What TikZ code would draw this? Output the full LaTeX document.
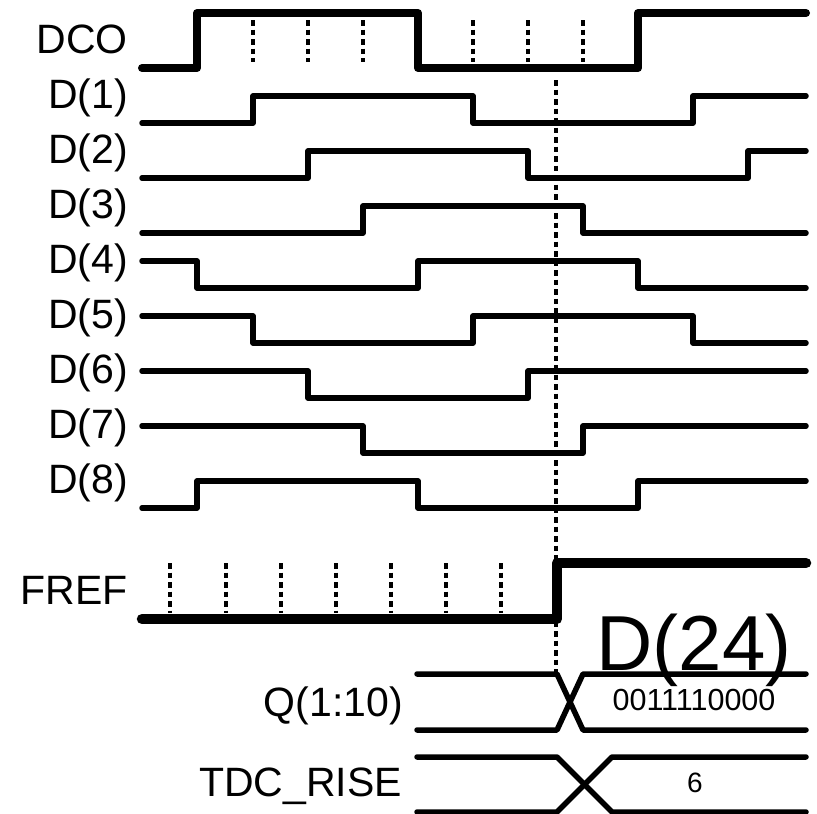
\documentclass[tikz,border=0pt]{standalone}
\usepackage{fontspec}
\setmainfont{Liberation Sans}

\begin{document}
\begin{tikzpicture}[x=1pt,y=-1pt,line join=round,line cap=round,
    font=\fontsize{41pt}{41pt}\selectfont,
    wave/.style={line width=5.5pt},
    clk/.style={line width=8pt},
    ref/.style={line width=10.5pt},
    tick/.style={line width=3.5pt,line cap=butt,dash pattern=on 5.5pt off 4pt},
    lbl/.style={anchor=base east,inner sep=0pt}]
  \useasboundingbox (0,0) rectangle (817,814);
  % signal names
  \node[lbl] (lDCO) at (128,53) {DCO};
  \node[lbl] (lD1) at (128,108) {D(1)};
  \node[lbl] (lD2) at (128,163) {D(2)};
  \node[lbl] (lD3) at (128,218) {D(3)};
  \node[lbl] (lD4) at (128,273) {D(4)};
  \node[lbl] (lD5) at (128,328) {D(5)};
  \node[lbl] (lD6) at (128,383) {D(6)};
  \node[lbl] (lD7) at (128,438) {D(7)};
  \node[lbl] (lD8) at (128,493) {D(8)};
  \node[lbl] (lFREF) at (128,604) {FREF};
  \node[lbl] (lQ) at (403,716) {Q(1:10)};
  \node[lbl] (lTDC) at (402,796) {TDC\_RISE};
  % waveforms
  \draw[clk] (142,68) -- (197,68) -- (197,13) -- (418,13) -- (418,68) -- (638,68) -- (638,13) -- (806,13);
  \draw[wave] (142,123) -- (253,123) -- (253,96) -- (473,96) -- (473,123) -- (693,123) -- (693,96) -- (806,96);
  \draw[wave] (142,178) -- (308,178) -- (308,151) -- (528,151) -- (528,178) -- (748,178) -- (748,151) -- (806,151);
  \draw[wave] (142,233) -- (363,233) -- (363,206) -- (583,206) -- (583,233) -- (806,233);
  \draw[wave] (142,261) -- (197,261) -- (197,288) -- (418,288) -- (418,261) -- (638,261) -- (638,288) -- (806,288);
  \draw[wave] (142,316) -- (253,316) -- (253,343) -- (473,343) -- (473,316) -- (693,316) -- (693,343) -- (806,343);
  \draw[wave] (142,371) -- (308,371) -- (308,398) -- (528,398) -- (528,371) -- (806,371);
  \draw[wave] (142,426) -- (363,426) -- (363,453) -- (583,453) -- (583,426) -- (806,426);
  \draw[wave] (142,508) -- (197,508) -- (197,481) -- (418,481) -- (418,508) -- (638,508) -- (638,481) -- (806,481);
  \draw[ref] (142,619) -- (557,619) -- (557,563) -- (806,563);
  % delay taps and sampling instant
  \foreach \x in {253,308,363,473,528,583}
    \draw[tick] (\x,20) -- (\x,62);
  \foreach \x in {170,226,281,336,391,446,501}
    \draw[tick] (\x,563) -- (\x,613);
  \coordinate (sTop) at (556,80);
  \coordinate (sBot) at (556,672);
  \draw[tick] (sTop) -- (sBot);
  % buses
  \draw[wave] (417,674) -- (557,674) -- (583,730) -- (806,730);
  \draw[wave] (417,730) -- (557,730) -- (583,674) -- (806,674);
  \draw[wave] (417,757) -- (557,757) -- (612,812) -- (806,812);
  \draw[wave] (417,812) -- (557,812) -- (612,757) -- (806,757);
  \node[anchor=base,inner sep=0pt,font=\fontsize{78pt}{78pt}\selectfont] (tD24) at (694,670) {D(24)};
  \node[anchor=base,inner sep=0pt,font=\fontsize{30.5pt}{30.5pt}\selectfont] (tQval) at (694,710) {0011110000};
  \node[anchor=base,inner sep=0pt,font=\fontsize{28pt}{28pt}\selectfont] (tTDCval) at (695,792) {6};
\end{tikzpicture}
\end{document}
